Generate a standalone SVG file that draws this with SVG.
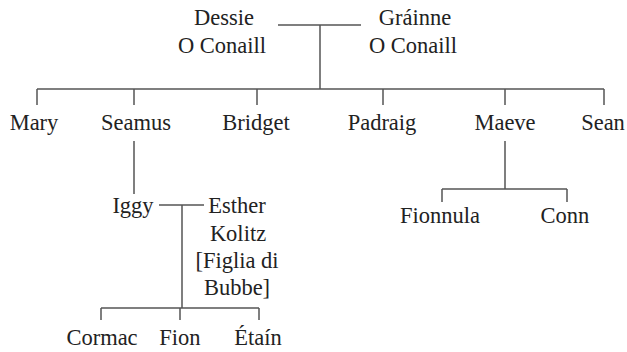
<svg xmlns="http://www.w3.org/2000/svg" width="627" height="352" viewBox="0 0 627 352">
<style>
text{font-family:"Liberation Serif","DejaVu Serif",serif;font-size:22.5px;fill:#222;text-anchor:middle}
.c{stroke:#555;stroke-width:1.5;fill:none}
</style>
<rect width="627" height="352" fill="#fff"/>
<g id="connectors">
<path class="c" d="M278 25H361M320 25V89M37 89H604M37 89V105M134 89V105M257 89V105M383 89V105M505 89V105M604 89V105"/>
<path class="c" d="M134 141V194"/>
<path class="c" d="M159 205H204M182 205V308M101 308H259M101 308V320M180 308V320M259 308V320"/>
<path class="c" d="M505 141V189M442 189H567M442 189V202M567 189V202"/>
</g>
<g id="dessie"><text x="224" y="25">Dessie</text><text x="222" y="53">O Conaill</text></g>
<g id="grainne"><text x="415" y="25">Gráinne</text><text x="413" y="53">O Conaill</text></g>
<g id="mary"><text x="34" y="130">Mary</text></g>
<g id="seamus"><text x="136" y="130">Seamus</text></g>
<g id="bridget"><text x="256" y="130">Bridget</text></g>
<g id="padraig"><text x="382" y="130">Padraig</text></g>
<g id="maeve"><text x="505" y="130">Maeve</text></g>
<g id="sean"><text x="603" y="130">Sean</text></g>
<g id="iggy"><text x="133" y="213">Iggy</text></g>
<g id="esther"><text x="237" y="213">Esther</text><text x="238" y="241">Kolitz</text><text x="237" y="268">[Figlia di</text><text x="237" y="295">Bubbe]</text></g>
<g id="fionnula"><text x="440" y="223">Fionnula</text></g>
<g id="conn"><text x="565" y="223">Conn</text></g>
<g id="cormac"><text x="102" y="345">Cormac</text></g>
<g id="fion"><text x="180" y="345">Fion</text></g>
<g id="etain"><text x="258" y="345">Étaín</text></g>
</svg>
